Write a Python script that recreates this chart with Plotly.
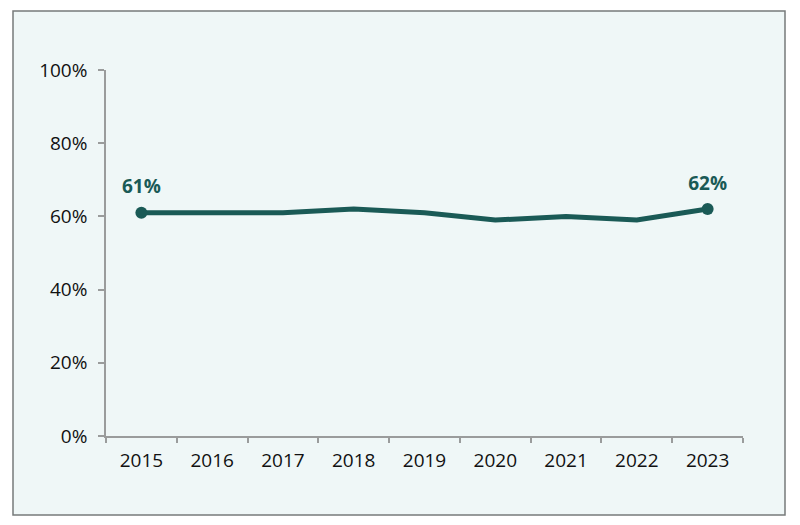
import plotly.graph_objects as go

years = ["2015", "2016", "2017", "2018", "2019", "2020", "2021", "2022", "2023"]
values = [61, 61, 61, 62, 61, 59, 60, 59, 62]
y_ticks = [0, 20, 40, 60, 80, 100]
y_labels = [f"{v}%" for v in y_ticks]

teal = "#1a5a56"
axis_gray = "#9a9c9c"

L, R, T, B = 106, 57, 70, 89
W, H = 800, 525
pw, ph = W - L - R, H - T - B

fig = go.Figure()
fig.add_trace(go.Scatter(
    x=years, y=values, mode="lines",
    line=dict(color=teal, width=5), hoverinfo="skip", showlegend=False,
))
end_x = [years[0], years[-1]]
end_y = [values[0], values[-1]]
fig.add_trace(go.Scatter(
    x=end_x, y=end_y, mode="markers",
    marker=dict(color=teal, size=12),
    hoverinfo="skip", showlegend=False, cliponaxis=False,
))
fig.add_trace(go.Scatter(
    x=end_x, y=end_y, mode="markers+text",
    marker=dict(color="rgba(0,0,0,0)", size=22),
    text=[f"<b>{v}%</b>" for v in end_y], textposition="top center",
    textfont=dict(family="Open Sans, sans-serif", size=19, color=teal),
    hoverinfo="skip", showlegend=False, cliponaxis=False,
))

# frame
fig.add_shape(type="rect", xref="paper", yref="paper", layer="below",
              x0=(13 - L) / pw, x1=(785 - L) / pw,
              y0=(H - B - 515) / ph, y1=(H - B - 11) / ph,
              fillcolor="#eff7f7", line=dict(color="#777b7b", width=1.5))

fig.update_layout(
    width=W, height=H,
    margin=dict(l=L, r=R, t=T, b=B),
    paper_bgcolor="white", plot_bgcolor="rgba(0,0,0,0)",
    font=dict(family="Open Sans, sans-serif", size=19, color="#111111"),
)
fig.update_xaxes(type="category", range=[-0.5, 8.5], tickson="boundaries",
                 ticks="outside", ticklen=5, tickcolor=axis_gray, tickwidth=1.5,
                 ticklabelstandoff=6,
                 showline=True, linecolor=axis_gray, linewidth=1.5,
                 showgrid=False, zeroline=False, fixedrange=True)
fig.update_yaxes(range=[0, 100], tickmode="array", tickvals=y_ticks, ticktext=y_labels,
                 ticks="outside", ticklen=6, tickcolor=axis_gray, tickwidth=1.5,
                 ticklabelstandoff=7,
                 showline=True, linecolor=axis_gray, linewidth=1.5,
                 showgrid=False, zeroline=False, fixedrange=True)

fig.write_html("out.html", config={"displayModeBar": False})
